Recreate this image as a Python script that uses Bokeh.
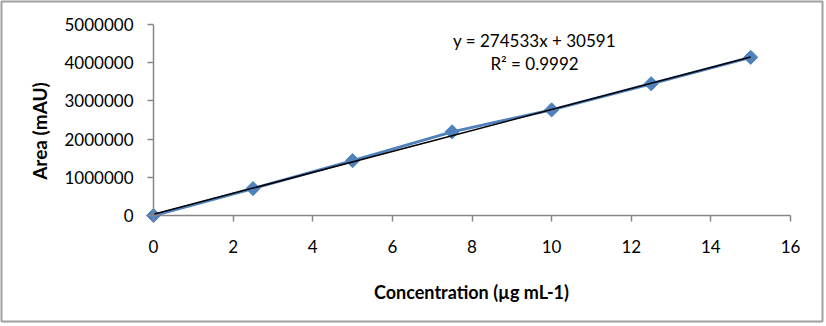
import math
from bokeh.plotting import figure
from bokeh.models import (Range1d, FixedTicker, PrintfTickFormatter, Label, LinearAxis)
from bokeh.embed import file_html
from bokeh.resources import INLINE

# ---- data ----
concentration = [0, 2.5, 5, 7.5, 10, 12.5, 15]
area = [0, 705000, 1435000, 2190000, 2765000, 3450000, 4140000]
slope = 274533
intercept = 30591
r_squared = 0.9992
x_ticks = [0, 2, 4, 6, 8, 10, 12, 14, 16]
y_ticks = [0, 1000000, 2000000, 3000000, 4000000, 5000000]
x_min, x_max = 0, 16
y_min, y_max = 0, 5000000
x_title = "Concentration (µg mL-1)"
y_title = "Area (mAU)"

FONT = "Lato"
GRAY = "#868686"
BLUE = "#4F81BD"

# ---- layout (pixels) ----
W, H = 826, 326
FL, FT, FR, FB = 1, 1, 822, 321          # chart border (frame)
PL, PT, PR, PB = 153, 24, 790, 215       # plot area inside
sx = (PR - PL) / (x_max - x_min)
sy = (PB - PT) / (y_max - y_min)
def dx(px):
    return x_min + (px - PL) / sx
def dy(py):
    return y_min + (PB - py) / sy

p = figure(width=W, height=H, output_backend="svg", toolbar_location=None,
           x_range=Range1d(dx(FL), dx(FR)), y_range=Range1d(dy(FB), dy(FT)),
           x_axis_location=None, y_axis_location=None,
           min_border_left=FL, min_border_right=W - FR,
           min_border_top=FT, min_border_bottom=H - FB)
p.xgrid.visible = False
p.ygrid.visible = False
p.outline_line_color = "#a0a0a0"
p.outline_line_width = 2
p.background_fill_color = "white"
p.border_fill_color = "white"

xaxis = LinearAxis(fixed_location=y_min, bounds=(x_min, x_max),
                   ticker=FixedTicker(ticks=x_ticks), formatter=PrintfTickFormatter(format="%d"))
yaxis = LinearAxis(fixed_location=x_min, bounds=(y_min, y_max),
                   ticker=FixedTicker(ticks=y_ticks), formatter=PrintfTickFormatter(format="%d"))
for ax in (xaxis, yaxis):
    ax.axis_line_color = GRAY
    ax.axis_line_width = 1.5
    ax.major_tick_line_color = GRAY
    ax.major_tick_line_width = 1.5
    ax.minor_tick_line_color = None
    ax.major_tick_in = 0
    ax.major_tick_out = 6
    ax.major_label_text_font = FONT
    ax.major_label_text_font_size = "17px"
    ax.major_label_text_color = "black"
xaxis.major_label_standoff = 18
yaxis.major_label_standoff = 14
p.add_layout(xaxis, "below")
p.add_layout(yaxis, "left")

# data line + markers
p.line(concentration, area, line_color=BLUE, line_width=3)
p.scatter(concentration, area, marker="square", angle=math.pi / 4, size=10,
          fill_color=BLUE, line_color=BLUE)

# linear trendline
tx = [concentration[0], concentration[-1]]
ty = [slope * x + intercept for x in tx]
p.line(tx, ty, line_color="black", line_width=1.5)

eq = Label(x=dx(534), y=dy(40), text=f"y = {slope}x + {intercept}", text_align="center",
           text_baseline="middle", text_font=FONT, text_font_size="17px", text_color="black")
r2 = Label(x=dx(534), y=dy(63), text=f"R² = {r_squared}", text_align="center",
           text_baseline="middle", text_font=FONT, text_font_size="17px", text_color="black")
xt = Label(x=dx(471), y=dy(291.5), text=x_title, text_align="center",
           text_baseline="alphabetic", text_font=FONT, text_font_size="18px",
           text_font_style="bold", text_color="black")
yt = Label(x=dx(38.5), y=dy(130.5), text=y_title, text_align="center", angle=math.pi / 2,
           text_baseline="middle", text_font=FONT, text_font_size="19px",
           text_font_style="bold", text_color="black")
dot = Label(x=dx(823.8), y=dy(321), text=".", text_align="center", text_baseline="alphabetic",
            text_font=FONT, text_font_size="9px", text_color="black")
for lab in (eq, r2, xt, yt, dot):
    p.add_layout(lab)

open("out.html", "w").write(file_html(p, INLINE))
